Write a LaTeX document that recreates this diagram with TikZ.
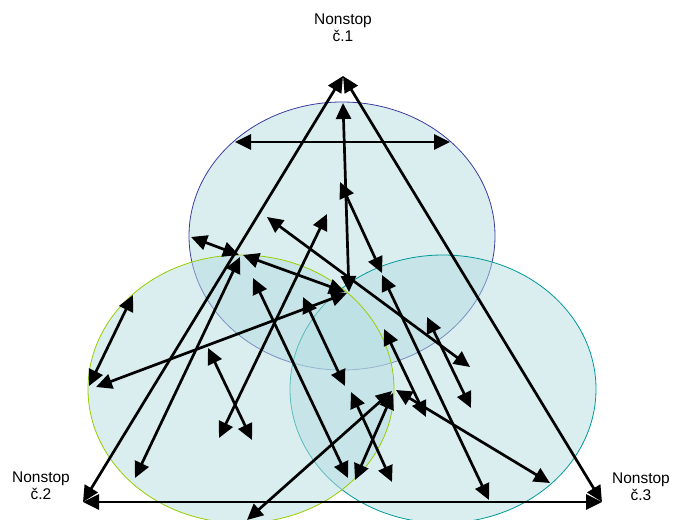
\documentclass[tikz,border=0pt]{standalone}
\usepackage{fontspec}
\setmainfont{Liberation Sans}
\usetikzlibrary{arrows.meta,shapes.geometric}

\definecolor{zoneFill}{RGB}{181,221,225}
\definecolor{zoneTop}{RGB}{60,60,160}
\definecolor{zoneLeft}{RGB}{153,204,0}
\definecolor{zoneRight}{RGB}{0,153,153}

\begin{document}
\begin{tikzpicture}[x=1pt, y=-1pt, >={Triangle[length=16pt,width=15pt]},
  zone/.style={ellipse, draw, line width=0.8pt, fill=zoneFill, fill opacity=0.5, minimum width=306pt, minimum height=268pt},
  link/.style={<->, line width=2.7pt},
  stopname/.style={align=center, inner sep=0pt, font=\fontsize{15.5}{17}\selectfont}]
\useasboundingbox (0,0) rectangle (673,520);

% three overlapping zones
\node[zone, draw=zoneTop] (z1) at (342,236) {};
\node[zone, draw=zoneRight] (z3) at (443,389) {};
\node[zone, draw=zoneLeft] (z2) at (241,389) {};

% stop labels
\node[stopname] (t1) at (343,28) {Nonstop\\č.1};
\node[stopname] (t2) at (41,486) {Nonstop\\č.2};
\node[stopname] (t3) at (641,487) {Nonstop\\č.3};

% triangle corners
\coordinate (s1) at (343,76);
\coordinate (s2) at (83,502);
\coordinate (s3) at (602,502);

% free arrow ends
\coordinate (a4) at (235,142);  \coordinate (b4) at (450,142);
\coordinate (a5) at (343,103);  \coordinate (b5) at (349,292);
\coordinate (a6) at (340,182);  \coordinate (b6) at (382,273);
\coordinate (a7) at (191,237);  \coordinate (b7) at (239,255);
\coordinate (a8) at (243,255);  \coordinate (b8) at (345,292);
\coordinate (a9) at (96,387);   \coordinate (b9) at (347,293);
\coordinate (a10) at (89,386);  \coordinate (b10) at (133,295);
\coordinate (a11) at (240,257); \coordinate (b11) at (135,478);
\coordinate (a12) at (219,438); \coordinate (b12) at (327,214);
\coordinate (a13) at (208,348); \coordinate (b13) at (252,440);
\coordinate (a14) at (267,217); \coordinate (b14) at (470,367);
\coordinate (a15) at (253,278); \coordinate (b15) at (348,478);
\coordinate (a16) at (303,297); \coordinate (b16) at (345,386);
\coordinate (a17) at (355,480); \coordinate (b17) at (393,393);
\coordinate (a18) at (247,520); \coordinate (b18) at (392,391);
\coordinate (a19) at (351,392); \coordinate (b19) at (392,482);
\coordinate (a20) at (384,329); \coordinate (b20) at (426,417);
\coordinate (a21) at (382,275); \coordinate (b21) at (489,500);
\coordinate (a22) at (427,317); \coordinate (b22) at (471,408);
\coordinate (a23) at (396,390); \coordinate (b23) at (550,483);

\draw[link] (s1) -- (s2);
\draw[link] (s1) -- (s3);
\draw[link] (s2) -- (s3);
\draw[link] (a4) -- (b4);
\draw[link] (a5) -- (b5);
\draw[link] (a6) -- (b6);
\draw[link] (a7) -- (b7);
\draw[link] (a8) -- (b8);
\draw[link] (a9) -- (b9);
\draw[link] (a10) -- (b10);
\draw[link] (a11) -- (b11);
\draw[link] (a12) -- (b12);
\draw[link] (a13) -- (b13);
\draw[link] (a14) -- (b14);
\draw[link] (a15) -- (b15);
\draw[link] (a16) -- (b16);
\draw[link] (a17) -- (b17);
\draw[link] (a18) -- (b18);
\draw[link] (a19) -- (b19);
\draw[link] (a20) -- (b20);
\draw[link] (a21) -- (b21);
\draw[link] (a22) -- (b22);
\draw[link] (a23) -- (b23);
\end{tikzpicture}
\end{document}
